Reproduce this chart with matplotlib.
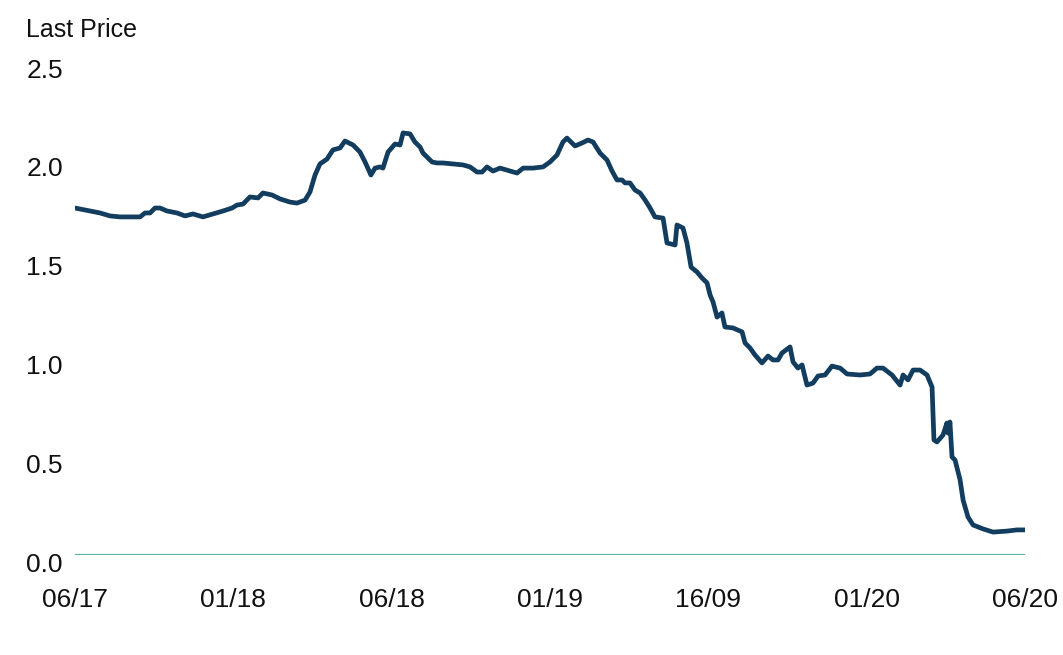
import matplotlib
matplotlib.use("Agg")
import matplotlib.pyplot as plt
import matplotlib.transforms as mtransforms

# Tick labels of the x axis (evenly spaced)
tick_labels = ['06/17', '01/18', '06/18', '01/19', '16/09', '01/20', '06/20']

# Position along the axis (in tick units) and last price
pos = [0.000, 0.095, 0.158, 0.221, 0.284, 0.411, 0.442, 0.474, 0.505, 0.537,
       0.581, 0.644, 0.695, 0.745, 0.808, 0.872, 0.935, 0.992, 1.023, 1.061,
       1.105, 1.156, 1.187, 1.244, 1.295, 1.358, 1.402, 1.453, 1.484, 1.516,
       1.547, 1.592, 1.629, 1.674, 1.705, 1.756, 1.800, 1.832, 1.869, 1.895,
       1.926, 1.945, 1.977, 2.021, 2.053, 2.072, 2.116, 2.147, 2.179, 2.198,
       2.255, 2.286, 2.324, 2.387, 2.451, 2.495, 2.539, 2.571, 2.602, 2.640,
       2.684, 2.728, 2.792, 2.830, 2.893, 2.956, 3.000, 3.044, 3.082, 3.107,
       3.158, 3.202, 3.240, 3.272, 3.316, 3.360, 3.392, 3.423, 3.455, 3.474,
       3.505, 3.537, 3.569, 3.600, 3.632, 3.663, 3.714, 3.739, 3.790, 3.802,
       3.840, 3.865, 3.891, 3.929, 3.960, 3.992, 4.011, 4.030, 4.055, 4.086,
       4.105, 4.156, 4.213, 4.232, 4.263, 4.295, 4.339, 4.377, 4.408, 4.440,
       4.465, 4.516, 4.535, 4.566, 4.592, 4.623, 4.661, 4.693, 4.737, 4.781,
       4.832, 4.876, 4.958, 5.021, 5.065, 5.103, 5.160, 5.211, 5.230, 5.261,
       5.293, 5.337, 5.381, 5.413, 5.425, 5.444, 5.482, 5.507, 5.514, 5.526,
       5.539, 5.558, 5.590, 5.609, 5.640, 5.672, 5.735, 5.798, 5.886, 5.949,
       5.987]
price = [1.756, 1.741, 1.731, 1.716, 1.711, 1.711, 1.731, 1.731, 1.756, 1.756,
         1.741, 1.731, 1.716, 1.726, 1.711, 1.726, 1.741, 1.756, 1.771, 1.776,
         1.812, 1.807, 1.832, 1.822, 1.802, 1.786, 1.781, 1.796, 1.837, 1.923,
         1.979, 2.004, 2.050, 2.060, 2.095, 2.075, 2.039, 1.989, 1.923, 1.958,
         1.964, 1.958, 2.039, 2.080, 2.075, 2.136, 2.131, 2.090, 2.065, 2.034,
         1.989, 1.984, 1.984, 1.979, 1.974, 1.964, 1.938, 1.938, 1.964, 1.943,
         1.958, 1.948, 1.933, 1.958, 1.958, 1.964, 1.989, 2.024, 2.090, 2.110,
         2.070, 2.085, 2.100, 2.090, 2.034, 1.999, 1.943, 1.898, 1.898, 1.883,
         1.883, 1.847, 1.832, 1.797, 1.756, 1.711, 1.705, 1.579, 1.569, 1.670,
         1.655, 1.579, 1.457, 1.432, 1.402, 1.377, 1.316, 1.280, 1.204, 1.225,
         1.154, 1.149, 1.129, 1.073, 1.048, 1.012, 0.972, 1.007, 0.987, 0.987,
         1.022, 1.053, 0.977, 0.946, 0.962, 0.860, 0.870, 0.906, 0.911, 0.956,
         0.946, 0.916, 0.911, 0.916, 0.946, 0.946, 0.911, 0.860, 0.911, 0.886,
         0.936, 0.936, 0.911, 0.850, 0.582, 0.572, 0.607, 0.668, 0.617, 0.673,
         0.496, 0.481, 0.380, 0.278, 0.192, 0.152, 0.132, 0.116, 0.121, 0.127,
         0.127]

y_ticks = [0.0, 0.5, 1.0, 1.5, 2.0, 2.5]

plt.rcParams['font.family'] = ['Liberation Sans', 'DejaVu Sans']

fig = plt.figure(figsize=(10.63, 6.55), dpi=100)
ax = fig.add_axes([75 / 1063, 100 / 655, 950 / 1063, 494 / 655])

# Ligne de base à zéro
ax.axhline(0, color='#5cb8b3', linewidth=1.6, zorder=1)

# Courbe du prix
ax.plot(pos, price, color='#123d5e', linewidth=3.4, solid_joinstyle='round', zorder=2)

ax.set_xlim(0, 6)
ax.set_ylim(0, 2.5)
ax.set_xticks(range(len(tick_labels)))
ax.set_xticklabels(tick_labels)
ax.set_yticks(y_ticks)
ax.set_yticklabels([f'{v:.1f}' for v in y_ticks])

for side in ['top', 'right', 'bottom', 'left']:
    ax.spines[side].set_visible(False)

ax.tick_params(axis='both', length=0, labelsize=19, colors='#111111')
ax.tick_params(axis='x', pad=24)
ax.tick_params(axis='y', pad=35)
offset = mtransforms.ScaledTranslation(0, -7 / 100, fig.dpi_scale_trans)
for lab in ax.get_yticklabels():
    lab.set_horizontalalignment('left')
    lab.set_transform(lab.get_transform() + offset)

fig.text(26 / 1063, 1 - 30 / 655, 'Last Price', fontsize=18, ha='left', va='center',
         color='#111111')

fig.savefig('out.png', dpi=100)
